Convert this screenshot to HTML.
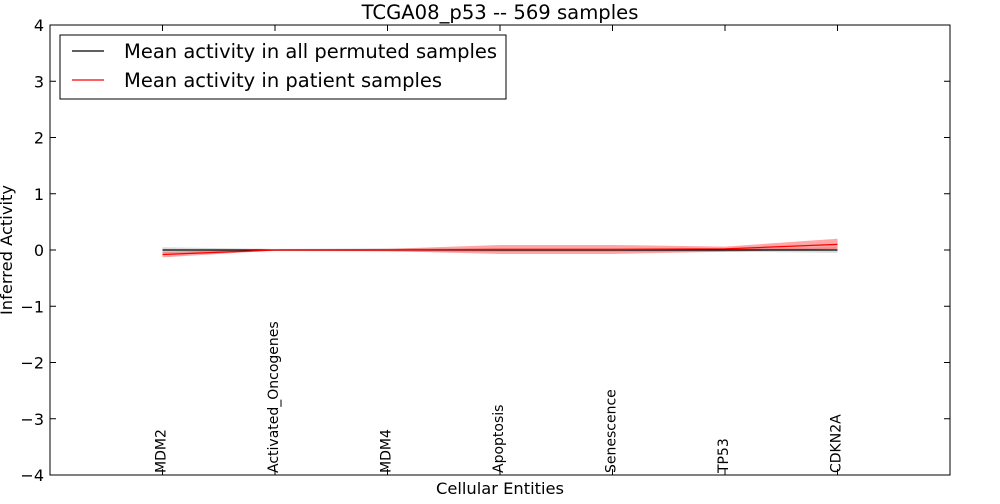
<!DOCTYPE html>
<html><head><meta charset="utf-8"><style>
body{margin:0;background:#fff;font-family:"DejaVu Sans",sans-serif}
svg text{font-family:"DejaVu Sans",sans-serif}
</style></head><body>
<svg id="chart" width="1000" height="500">
<rect x="0" y="0" width="1000" height="500" fill="#fff"/>
<text x="500" y="19" font-size="19.6" text-anchor="middle">TCGA08_p53 -- 569 samples</text>
<g id="bands"></g><g id="lines"></g>
<rect x="50" y="25" width="900" height="450" fill="none" stroke="#000" stroke-width="1"/>
<g id="axes"></g>
<text x="500" y="494" font-size="16.3" text-anchor="middle">Cellular Entities</text>
<text transform="translate(12,250) rotate(-90)" font-size="16.3" text-anchor="middle">Inferred Activity</text>
<g>
<rect x="60" y="35" width="446" height="64" fill="#fff" stroke="#000"/>
<line x1="72" y1="51" x2="104" y2="51" stroke="#000" stroke-width="1.2"/>
<text x="124" y="58" font-size="19.5">Mean activity in all permuted samples</text>
<line x1="72" y1="80" x2="104" y2="80" stroke="red" stroke-width="1.2"/>
<text x="124" y="87" font-size="19.5">Mean activity in patient samples</text>
</g>
</svg>
<script>
const categories=["MDM2","Activated_Oncogenes","MDM4","Apoptosis","Senescence","TP53","CDKN2A"];
const permMean=[0,0,0,0,0,0,0];
const permLow=[-0.05,-0.02,-0.03,-0.03,-0.03,-0.03,-0.05];
const permHigh=[0.05,0.02,0.03,0.03,0.03,0.03,0.05];
const patMean=[-0.08,0,0,0.01,0.01,0.02,0.1];
const patLow=[-0.13,-0.01,-0.02,-0.07,-0.07,-0.03,0.02];
const patHigh=[-0.03,0.01,0.02,0.09,0.09,0.06,0.2];
const yTicks=[-4,-3,-2,-1,0,1,2,3,4];
const X=i=>50+(i+1)*112.5, Y=v=>250-v*56.25;
const NS="http://www.w3.org/2000/svg";
function mk(t,a,p){const e=document.createElementNS(NS,t);for(const k in a)e.setAttribute(k,a[k]);p.appendChild(e);return e;}
const bands=document.getElementById('bands'),lines=document.getElementById('lines'),axes=document.getElementById('axes');
function band(lo,hi,fill,op,name){
 let d="M"+lo.map((v,i)=>X(i)+","+Y(hi[i])).join("L");
 for(let i=lo.length-1;i>=0;i--)d+="L"+X(i)+","+Y(lo[i]);
 const p=mk('path',{d:d+"Z",fill:fill,'fill-opacity':op},bands);
 
 
}
band(permLow,permHigh,"#999",0.35,'permuted-band');
band(patLow,patHigh,"red",0.35,'patient-band');
function line(vals,col,name){
 const p=mk('polyline',{points:vals.map((v,i)=>X(i)+","+Y(v)).join(" "),fill:"none",stroke:col,'stroke-width':1.3},lines);
 
 
}
line(permMean,"#000",'permuted-mean-line');
line(patMean,"red",'patient-mean-line');
yTicks.forEach(t=>{
 const y=Y(t);
 mk('line',{x1:50,y1:y,x2:56,y2:y,stroke:"#000"},axes);
 mk('line',{x1:944,y1:y,x2:950,y2:y,stroke:"#000"},axes);
 const tx=mk('text',{x:44,y:y+6,'font-size':16,'text-anchor':'end'},axes);
 tx.textContent=(t<0?"\u2212"+(-t):t);
 
 
});
categories.forEach((c,i)=>{
 const x=X(i);
 mk('line',{x1:x,y1:475,x2:x,y2:469,stroke:"#000"},axes);
 mk('line',{x1:x,y1:25,x2:x,y2:31,stroke:"#000"},axes);
 const tx=mk('text',{transform:`translate(${x+3},473) rotate(-90)`,'font-size':14},axes);
 tx.textContent=c;
 
 
});
</script>
</body></html>
